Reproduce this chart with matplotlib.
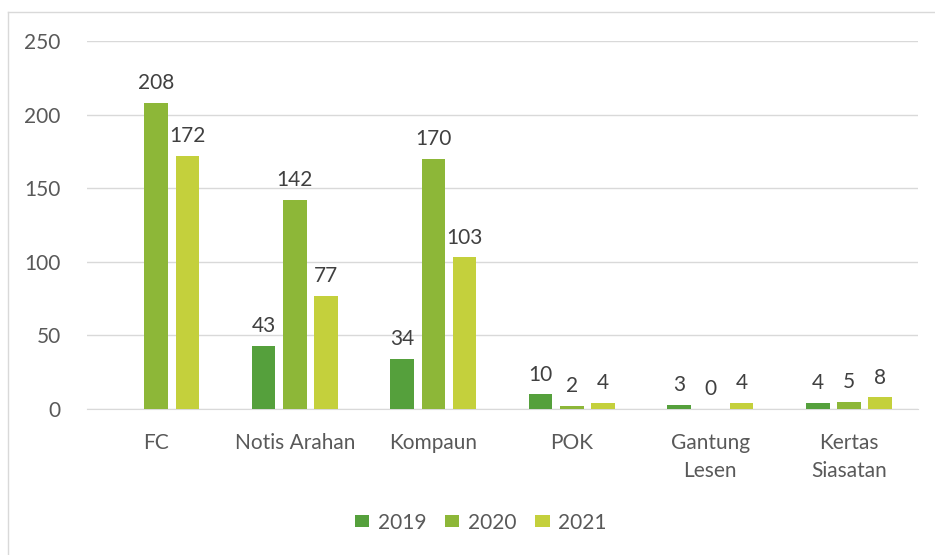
import numpy as np
import matplotlib.pyplot as plt
from matplotlib.lines import Line2D

# Kategori dan nilai setiap tahun
kategori = ["FC", "Notis Arahan", "Kompaun", "POK", "Gantung\nLesen", "Kertas\nSiasatan"]
tahun = ["2019", "2020", "2021"]
nilai_2019 = [np.nan, 43, 34, 10, 3, 4]
nilai_2020 = [208, 142, 170, 2, 0, 5]
nilai_2021 = [172, 77, 103, 4, 4, 8]
warna = ["#55A03C", "#8DB738", "#C4D03C"]

plt.rcParams["font.family"] = ["Lato", "DejaVu Sans"]
teks = "#595959"
saiz = 15

fig = plt.figure(figsize=(9.35, 5.55), dpi=100)
ax = fig.add_axes([0.093, 0.263, 0.889, 0.663])

x = np.arange(len(kategori))
lebar = 0.17
jarak = 0.225
for i, (nilai, w) in enumerate(zip([nilai_2019, nilai_2020, nilai_2021], warna)):
    pos = x + (i - 1) * jarak
    v = np.array(nilai, dtype=float)
    ok = ~np.isnan(v)
    bars = ax.bar(pos[ok], v[ok], width=lebar, color=w, label=tahun[i], zorder=3)
    ax.bar_label(bars, fmt="%.0f", padding=7, fontsize=saiz, color="#404040")

ax.set_xlim(-0.5, len(kategori) - 0.5)
ax.set_ylim(0, 250)
ax.set_yticks(range(0, 251, 50))
ax.set_xticks(x)
ax.set_xticklabels(kategori, linespacing=1.55)
ax.tick_params(axis="both", length=0, labelsize=saiz, labelcolor=teks)
ax.tick_params(axis="y", pad=19)
ax.tick_params(axis="x", pad=17)
ax.grid(axis="y", color="#D9D9D9", linewidth=1, zorder=0)
for s in ["top", "right", "left"]:
    ax.spines[s].set_visible(False)
ax.spines["bottom"].set_color("#D9D9D9")

fig.legend(loc="center", bbox_to_anchor=(0.514, 0.058), ncol=3, frameon=False,
           fontsize=saiz, labelcolor=teks, handlelength=0.7, handleheight=0.5,
           handletextpad=0.4, columnspacing=0.9)

# bingkai carta
fig.add_artist(Line2D([8 / 935, 8 / 935], [0, 1 - 12 / 555], color="#D9D9D9", lw=1))
fig.add_artist(Line2D([8 / 935, 1], [1 - 12 / 555, 1 - 12 / 555], color="#D9D9D9", lw=1))

fig.savefig("out.png", dpi=100)
